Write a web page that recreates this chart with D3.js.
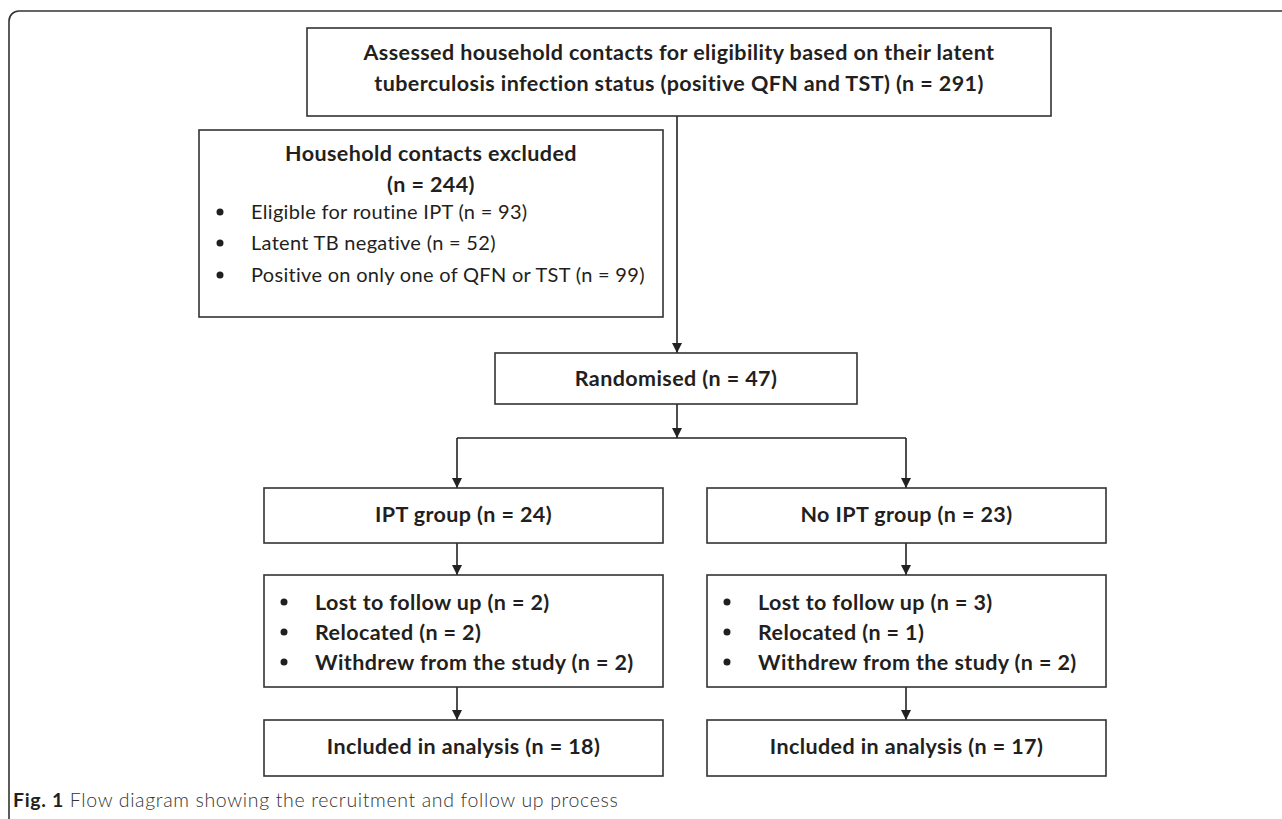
<!DOCTYPE html>
<html>
<head>
<meta charset="utf-8">
<script src="https://cdn.jsdelivr.net/npm/d3@7"></script>
<style>
  body { margin: 0; background: #fff; }
  svg text { font-family: Lato, "Open Sans", sans-serif; fill: #231f20; }
</style>
</head>
<body>
<svg id="chart"></svg>
<script>
// Flow diagram content
const assessedLines = ["Assessed household contacts for eligibility based on their latent",
                       "tuberculosis infection status (positive QFN and TST)"];
const assessedN = 291;
const excludedTitle = "Household contacts excluded";
const excludedN = 244;
const excludedReasons = ["Eligible for routine IPT", "Latent TB negative", "Positive on only one of QFN or TST"];
const excludedCounts = [93, 52, 99];
const randomisedN = 47;
const groups = ["IPT group", "No IPT group"];
const groupCounts = [24, 23];
const lossReasons = ["Lost to follow up", "Relocated", "Withdrew from the study"];
const lossCounts = [[2, 2, 2], [3, 1, 2]];
const analysedCounts = [18, 17];
const captionBold = "Fig. 1";
const captionText = " Flow diagram showing the recruitment and follow up process";

const width = 1282, height = 819;
const ink = "#333";
const nText = n => "(n = " + n + ")";

const svg = d3.select("#chart")
    .attr("width", width)
    .attr("height", height);

// arrow head
svg.append("defs").append("marker")
    .attr("id", "arrow")
    .attr("markerUnits", "userSpaceOnUse")
    .attr("viewBox", "0 0 10 10")
    .attr("markerWidth", 10)
    .attr("markerHeight", 11)
    .attr("refX", 10)
    .attr("refY", 5)
    .attr("orient", "auto")
    .append("path")
    .attr("d", "M0,0L10,5L0,10Z")
    .attr("fill", "#222");

// layout: columns and stages
const stages = ["assessed", "excluded", "randomised", "group", "lost", "analysis"];
const stageTop = d3.scaleOrdinal().domain(stages).range([28, 130, 353, 488, 575, 720]);
const stageHeight = d3.scaleOrdinal().domain(stages).range([88, 187, 51, 55, 112, 56]);
const groupX = d3.scalePoint().domain(groups).range([457, 906]);   // arrow / column lines
const groupBoxX = d3.scaleOrdinal().domain(groups).range([264, 707]);
const groupBoxW = 399;
const mainX = 677;

// outer frame
const frame = d3.path();
frame.moveTo(9, height);
frame.lineTo(9, 21);
frame.arcTo(9, 11, 19, 11, 10);
frame.lineTo(width, 11);
svg.append("path")
    .attr("d", frame.toString())
    .attr("fill", "none")
    .attr("stroke", ink)
    .attr("stroke-width", 1.6);

function box(x, y, w, h) {
    svg.append("rect")
        .attr("x", x).attr("y", y)
        .attr("width", w).attr("height", h)
        .attr("fill", "#fff")
        .attr("stroke", ink)
        .attr("stroke-width", 1.6);
}

function label(x, y, txt, opts) {
    opts = opts || {};
    return svg.append("text")
        .attr("x", x).attr("y", y)
        .attr("dy", "0.35em")
        .attr("text-anchor", opts.anchor || "middle")
        .style("font-size", opts.bold ? "21.5px" : "20px")
        .style("letter-spacing", opts.bold ? "0.4px" : "0.3px")
        .style("font-weight", opts.bold ? 700 : 400)
        .text(txt);
}

function arrow(x, y1, y2) {
    svg.append("line")
        .attr("x1", x).attr("x2", x)
        .attr("y1", y1).attr("y2", y2)
        .attr("stroke", "#222")
        .attr("stroke-width", 1.6)
        .attr("marker-end", "url(#arrow)");
}

function bulletList(x, yCenters, items, bold) {
    items.forEach((t, i) => {
        svg.append("circle")
            .attr("cx", x).attr("cy", yCenters[i])
            .attr("r", 3.5)
            .attr("fill", "#231f20");
        label(x + 31, yCenters[i], t, {anchor: "start", bold: bold});
    });
}

// connectors (drawn first so boxes sit on top)
arrow(mainX, stageTop("assessed") + stageHeight("assessed"), stageTop("randomised"));
const splitY = 438;
arrow(mainX, stageTop("randomised") + stageHeight("randomised"), splitY);
svg.append("line")
    .attr("x1", groupX(groups[0])).attr("x2", groupX(groups[1]))
    .attr("y1", splitY).attr("y2", splitY)
    .attr("stroke", "#222").attr("stroke-width", 1.6);
groups.forEach(g => {
    const x = groupX(g);
    arrow(x, splitY, stageTop("group"));
    arrow(x, stageTop("group") + stageHeight("group"), stageTop("lost"));
    arrow(x, stageTop("lost") + stageHeight("lost"), stageTop("analysis"));
});

// top box
box(307, stageTop("assessed"), 744, stageHeight("assessed"));
label(679, 52, assessedLines[0], {bold: true});
label(679, 83, assessedLines[1] + " " + nText(assessedN), {bold: true});

// excluded box
const exX = 199, exW = 464;
box(exX, stageTop("excluded"), exW, stageHeight("excluded"));
label(exX + exW / 2, 153, excludedTitle, {bold: true});
label(exX + exW / 2, 184, nText(excludedN), {bold: true});
bulletList(exX + 21, [212, 243, 275],
    excludedReasons.map((r, i) => r + " " + nText(excludedCounts[i])), false);

// randomised
box(495, stageTop("randomised"), 362, stageHeight("randomised"));
label(676, stageTop("randomised") + stageHeight("randomised") / 2, "Randomised " + nText(randomisedN), {bold: true});

// group columns
groups.forEach((g, gi) => {
    const x0 = groupBoxX(g), cx = x0 + groupBoxW / 2;
    box(x0, stageTop("group"), groupBoxW, stageHeight("group"));
    label(cx, stageTop("group") + 26, g + " " + nText(groupCounts[gi]), {bold: true});

    box(x0, stageTop("lost"), groupBoxW, stageHeight("lost"));
    bulletList(x0 + 20, [602, 632, 662],
        lossReasons.map((r, i) => r + " " + nText(lossCounts[gi][i])), true);

    box(x0, stageTop("analysis"), groupBoxW, stageHeight("analysis"));
    label(cx, stageTop("analysis") + 26, "Included in analysis " + nText(analysedCounts[gi]), {bold: true});
});

// caption
const cap = svg.append("text")
    .attr("x", 13).attr("y", 807)
    .style("font-size", "19.5px")
    .style("letter-spacing", "0.65px");
cap.append("tspan").style("font-weight", 700).text(captionBold);
cap.append("tspan").style("font-weight", 300).style("fill", "#333").text(captionText);
</script>
</body>
</html>
